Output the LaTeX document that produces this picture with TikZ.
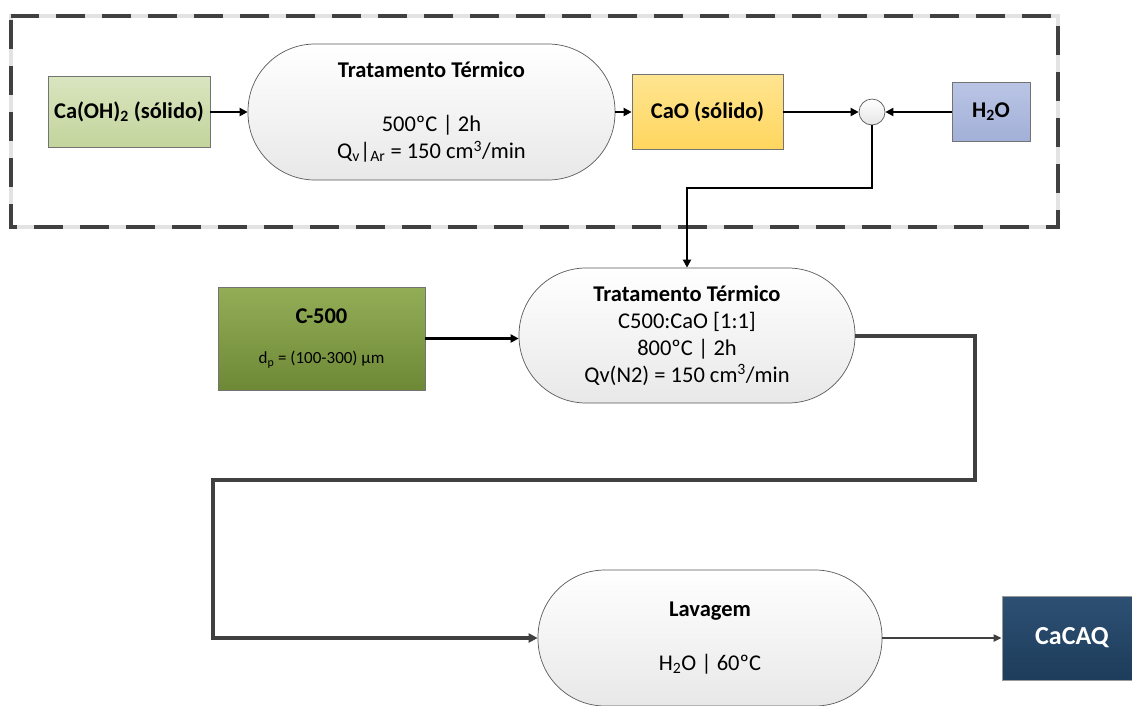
\documentclass[tikz,border=0pt]{standalone}
\usepackage{fontspec}
\setmainfont{Carlito}
\usetikzlibrary{arrows.meta,calc}

\definecolor{caohTop}{HTML}{D9E5BF}
\definecolor{caohBot}{HTML}{C3D49C}
\definecolor{caoTop}{HTML}{FFE591}
\definecolor{caoBot}{HTML}{FFD65E}
\definecolor{hoTop}{HTML}{BAC5E5}
\definecolor{hoBot}{HTML}{A2AFD7}
\definecolor{cTop}{HTML}{93AD57}
\definecolor{cBot}{HTML}{6E8936}
\definecolor{qTop}{HTML}{2D5073}
\definecolor{qBot}{HTML}{1E3C5B}
\definecolor{line}{HTML}{404040}
\definecolor{frame}{HTML}{E3E3E3}

\begin{document}
\begin{tikzpicture}[x=1pt,y=-1pt,
  txt/.style={font=\fontsize{22.5}{27}\selectfont},
  btxt/.style={font=\bfseries\fontsize{22.5}{27}\selectfont},
  proc/.style={txt, draw=black!65, line width=0.7pt, rounded corners=67pt,
    top color=white, bottom color=black!9, align=center, inner sep=0pt,
    minimum height=136pt},
  box/.style={txt, draw=black!55, line width=0.7pt, inner sep=0pt, align=center},
  flow/.style={line width=2.6pt, -{Triangle[length=8pt,width=8pt]}},
  flowg/.style={draw=line, line width=4pt, -{Triangle[length=9pt,width=9pt]}},
]
\useasboundingbox (0,0) rectangle (1132,705);

% dashed frame around the CaO preparation
\draw[frame, line width=3.5pt] (11,16) rectangle (1058,227);
\draw[line, line width=3.5pt, dash pattern=on 29pt off 17pt, dash phase=-4pt]
  (11,16) rectangle (1058,227);

% first stage
\node[box, btxt, top color=caohTop, bottom color=caohBot,
  minimum width=162pt, minimum height=71pt] (caoh) at (129,112)
  {Ca(OH)\textsubscript{2} (sólido)};
\node[proc, minimum width=367pt] (tt1) at (431.5,112)
  {\textbf{Tratamento Térmico}\\[27pt]500ºC | 2h\\Q\textsubscript{v}|\textsubscript{Ar} = 150 cm\textsuperscript{3}/min};
\node[box, btxt, top color=caoTop, bottom color=caoBot,
  minimum width=151pt, minimum height=75pt] (cao) at (707.5,112) {CaO (sólido)};
\node[circle, draw=black!65, line width=0.7pt, top color=white, bottom color=black!10,
  minimum size=26pt, inner sep=0pt] (mix) at (872,112) {};
\node[box, btxt, top color=hoTop, bottom color=hoBot,
  minimum width=78pt, minimum height=59pt] (ho) at (991,112) {H\textsubscript{2}O};

% second stage
\node[box, top color=cTop, bottom color=cBot, minimum width=207pt, minimum height=103pt]
  (c5) at (321.5,338.5)
  {\textbf{C-500}\\[13pt]{\fontsize{17}{20}\selectfont d\textsubscript{p} = (100-300) µm}};
\node[proc, minimum width=336pt, minimum height=135pt] (tt2) at (687,335.5)
  {\textbf{Tratamento Térmico}\\C500:CaO [1:1]\\800ºC | 2h\\Qv(N2) = 150 cm\textsuperscript{3}/min};

% washing and product
\node[proc, minimum width=344pt] (lav) at (710,638)
  {\textbf{Lavagem}\\[27pt]H\textsubscript{2}O | 60ºC};
\node[box, draw=black!40, font=\bfseries\fontsize{26}{30}\selectfont, text=white,
  top color=qTop, bottom color=qBot, minimum width=140pt, minimum height=84pt]
  (q) at (1072,638) {CaCAQ};

% routing points
\coordinate (j1) at (0,188);
\coordinate (r1) at (975,480);
\coordinate (l1) at (213,480);

% connectors
\draw[flow] (caoh) -- (tt1);
\draw[flow] (tt1) -- (cao);
\draw[flow] (cao) -- (mix);
\draw[flow] (ho) -- (mix);
\draw[flow] (mix.south) -- (mix.south |- j1) -| (tt2.north);
\draw[flow] (c5.east) -- (c5.east -| tt2.west);
\draw[flowg] (tt2.east) -| (r1) -- (l1) |- (lav.west);
\draw[draw=line, line width=1.8pt, -{Triangle[length=8pt,width=7pt]}] (lav.east) -- (q.west);
\end{tikzpicture}
\end{document}
